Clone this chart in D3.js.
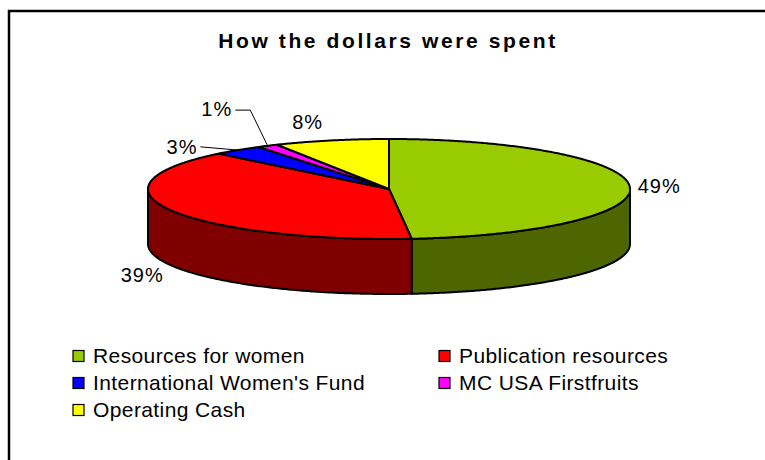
<!DOCTYPE html>
<html>
<head>
<meta charset="utf-8">
<script src="https://cdn.jsdelivr.net/npm/d3@7"></script>
<style>
  body { margin: 0; background: #fff; }
  text { font-family: "Liberation Sans", Arial, sans-serif; }
</style>
</head>
<body>
<svg id="chart" width="765" height="460"></svg>
<script>
const categories = ["Resources for women", "Publication resources", "International Women's Fund", "MC USA Firstfruits", "Operating Cash"];
const values = [48.5, 39.0, 3.4, 1.4, 7.7];
const colors = ["#99cc00", "#ff0000", "#0000ff", "#ff00ff", "#ffff00"];
// small labels get pushed aside like excel does
const labelShift = [[0, 0], [-2, 2], [-41, 10], [-39, -22], [-18, -2]];

const svg = d3.select('#chart');

// frame (runs off the right and bottom edge)
svg.append('rect')
	.attr('x', 9).attr('y', 11)
	.attr('width', 800).attr('height', 500)
	.attr('fill', '#fff')
	.attr('stroke', '#000')
	.attr('stroke-width', 2.5);

svg.append('text')
	.attr('x', 388).attr('y', 48)
	.attr('text-anchor', 'middle')
	.style('font-size', '21px')
	.style('font-weight', 'bold')
	.style('letter-spacing', '2.6px')
	.text('How the dollars were spent');

// 3d pie geometry
const cx = 389, cy = 189, rx = 241, ry = 50, depth = 55;

const pie = d3.pie().value(d => d).sort(null).startAngle(0).endAngle(2 * Math.PI);
const arcs = pie(values);

const pt = (a, dy = 0) => [cx + rx * Math.sin(a), cy - ry * Math.cos(a) + dy];
const arcPts = (a0, a1, dy) => {
	const n = Math.max(2, Math.ceil(Math.abs(a1 - a0) / (Math.PI / 360)));
	return d3.range(n + 1).map(i => pt(a0 + (a1 - a0) * i / n, dy));
};
const line = d3.line();
const dark = c => { const r = d3.rgb(c); return d3.rgb(r.r / 2, r.g / 2, r.b / 2).formatHex(); };

// side walls, only the front half is visible
svg.append('g')
	.selectAll('path')
	.data(arcs.filter(d => Math.max(d.startAngle, Math.PI / 2) < Math.min(d.endAngle, 3 * Math.PI / 2)))
	.join('path')
	.attr('d', d => {
		const s = Math.max(d.startAngle, Math.PI / 2), e = Math.min(d.endAngle, 3 * Math.PI / 2);
		return line(arcPts(s, e, 0).concat(arcPts(e, s, depth))) + 'Z';
	})
	.attr('fill', d => dark(colors[d.index]))
	.attr('stroke', '#000')
	.attr('stroke-width', 2)
	.attr('stroke-linejoin', 'round');

// top faces
svg.append('g')
	.selectAll('path')
	.data(arcs)
	.join('path')
	.attr('d', d => line([[cx, cy]].concat(arcPts(d.startAngle, d.endAngle, 0))) + 'Z')
	.attr('fill', d => colors[d.index])
	.attr('stroke', '#000')
	.attr('stroke-width', 2)
	.attr('stroke-linejoin', 'round');

// percentage labels
const gap = 8;
const lbl = svg.append('g');
arcs.forEach(d => {
	const m = (d.startAngle + d.endAngle) / 2;
	const s = Math.sin(m), c = Math.cos(m);
	const t = lbl.append('text')
		.style('font-size', '20px')
		.style('letter-spacing', '1px')
		.attr('text-anchor', 'middle')
		.attr('dy', '0.35em')
		.text(Math.round(d.value) + '%');
	const w = t.node().getComputedTextLength(), h = 18;
	let x = cx + (rx + gap) * s + w / 2 * s;
	let y = cy - (ry + gap) * c + (c < 0 ? depth : 0) - h / 2 * c;
	x += labelShift[d.index][0];
	y += labelShift[d.index][1];
	t.attr('x', x).attr('y', y);

	if (d.value < 5) {
		const p = pt(m);
		const x0 = x + w / 2 + 3;
		const pts = Math.abs(p[1] - y) > 15
			? [[x0, y + 1], [x0 + 15, y + 1], p]
			: [[x0, y], p];
		lbl.append('path')
			.attr('d', line(pts))
			.attr('fill', 'none')
			.attr('stroke', '#000')
			.attr('stroke-width', 1);
	}
});

// legend, two columns
const legend = svg.append('g')
	.selectAll('g')
	.data(categories)
	.join('g')
	.attr('transform', (d, i) => `translate(${i % 2 ? 439 : 73},${356 + Math.floor(i / 2) * 27})`);

legend.append('rect')
	.attr('x', 0).attr('y', -5.5)
	.attr('width', 11).attr('height', 11)
	.attr('fill', (d, i) => colors[i])
	.attr('stroke', '#000')
	.attr('stroke-width', 1.2);

legend.append('text')
	.attr('x', 20)
	.attr('dy', '0.35em')
	.style('font-size', '21px')
	.style('letter-spacing', '0.4px')
	.text(d => d);
</script>
</body>
</html>
